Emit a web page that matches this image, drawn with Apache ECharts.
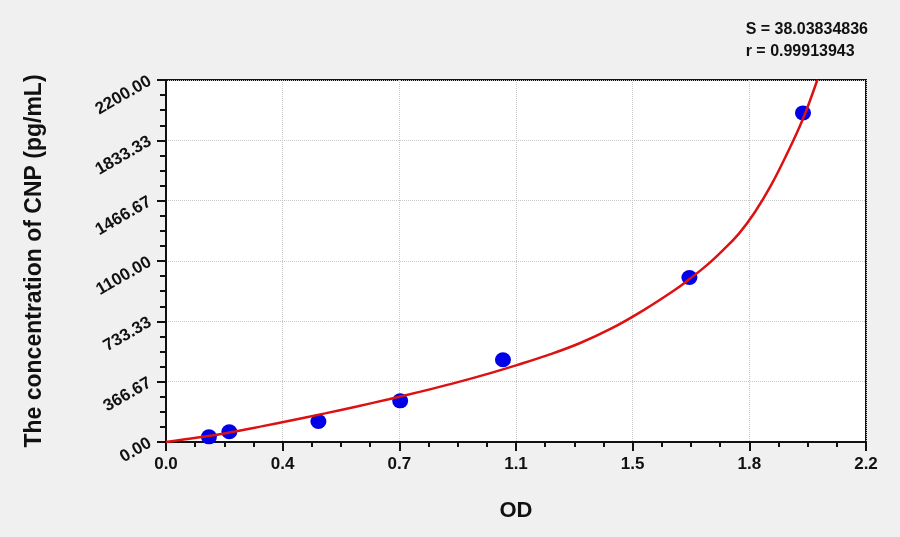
<!DOCTYPE html>
<html>
<head>
<meta charset="utf-8">
<script src="https://cdn.jsdelivr.net/npm/echarts@6/dist/echarts.min.js"></script>
<style>
  html,body{margin:0;padding:0;background:#f0f0f0;}
  #chart{width:900px;height:537px;}
</style>
</head>
<body>
<div id="chart"></div>
<script>
// standards (OD / concentration)
var stdOd   = [0.135, 0.199, 0.479, 0.736, 1.059, 1.645, 2.002];
var stdConc = [31.25, 62.5, 125, 250, 500, 1000, 2000];

// fitted curve
var curveOd   = [0, 0.1, 0.2, 0.3, 0.4, 0.5, 0.6, 0.7, 0.8, 0.9, 1.0, 1.1, 1.2, 1.3, 1.4, 1.5, 1.6, 1.645, 1.7, 1.75, 1.8, 1.85, 1.9, 1.95, 2.0, 2.047];
var curveConc = [0, 27, 58, 95, 134, 174, 216, 260, 306, 355, 408, 466, 528, 600, 690, 800, 925, 990, 1075, 1165, 1265, 1395, 1555, 1745, 1955, 2200];

var statLines = ['S = 38.03834836', 'r = 0.99913943'];

var xMax = 2.2, yMax = 2200;

var stdData = [], curveData = [];
for (var i = 0; i < stdOd.length; i++) { stdData.push([stdOd[i], stdConc[i]]); }
for (var j = 0; j < curveOd.length; j++) { curveData.push([curveOd[j], curveConc[j]]); }

var font = 'Liberation Sans, Arial, sans-serif';
var chart = echarts.init(document.getElementById('chart'));

chart.setOption({
    backgroundColor: '#f0f0f0',
    animation: false,
    grid: {
        left: 166, right: 34, top: 80, bottom: 95,
        show: true, backgroundColor: '#ffffff',
        borderColor: '#111', borderWidth: 2
    },
    graphic: [{
        type: 'text', right: 32, top: 19,
        style: {
            text: statLines.join('\n'), align: 'right',
            font: 'bold 16px ' + font, fill: '#111', lineHeight: 22
        }
    }],
    xAxis: {
        type: 'value', min: 0, max: xMax, interval: xMax / 6,
        name: 'OD', nameLocation: 'middle', nameGap: 58,
        nameTextStyle: { fontFamily: font, fontWeight: 'bold', fontSize: 22, color: '#111' },
        axisLine: { lineStyle: { color: '#111', width: 2 } },
        axisTick: { inside: false, length: 9, lineStyle: { color: '#111', width: 2 } },
        minorTick: { show: true, splitNumber: 4, length: 5, lineStyle: { color: '#111', width: 2 } },
        axisLabel: {
            fontFamily: font, fontWeight: 'bold', fontSize: 17, color: '#111', margin: 14,
            formatter: function (v) { return v.toFixed(1); }
        },
        splitLine: { show: true, lineStyle: { color: '#c8c8c8', type: 'dotted', width: 1 } }
    },
    yAxis: {
        type: 'value', min: 0, max: yMax, interval: yMax / 6,
        name: 'The concentration of CNP (pg/mL)', nameLocation: 'middle', nameGap: 120,
        nameTextStyle: { fontFamily: font, fontWeight: 'bold', fontSize: 23, color: '#111' },
        axisLine: { lineStyle: { color: '#111', width: 2 } },
        axisTick: { inside: false, length: 9, lineStyle: { color: '#111', width: 2 } },
        minorTick: { show: true, splitNumber: 4, length: 6, lineStyle: { color: '#111', width: 2 } },
        axisLabel: {
            fontFamily: font, fontWeight: 'bold', fontSize: 17, color: '#111', margin: 16, rotate: 30,
            formatter: function (v) { return v.toFixed(2); }
        },
        splitLine: { show: true, lineStyle: { color: '#c8c8c8', type: 'dotted', width: 1 } }
    },
    series: [
        {
            type: 'line', data: curveData, smooth: 0.4, showSymbol: false,
            lineStyle: { color: '#dd1111', width: 2.5 }, z: 3
        },
        {
            type: 'scatter', data: stdData, symbol: 'circle', symbolSize: [16, 15],
            itemStyle: { color: '#0000e8', opacity: 1 }, z: 2
        }
    ]
});
</script>
</body>
</html>
